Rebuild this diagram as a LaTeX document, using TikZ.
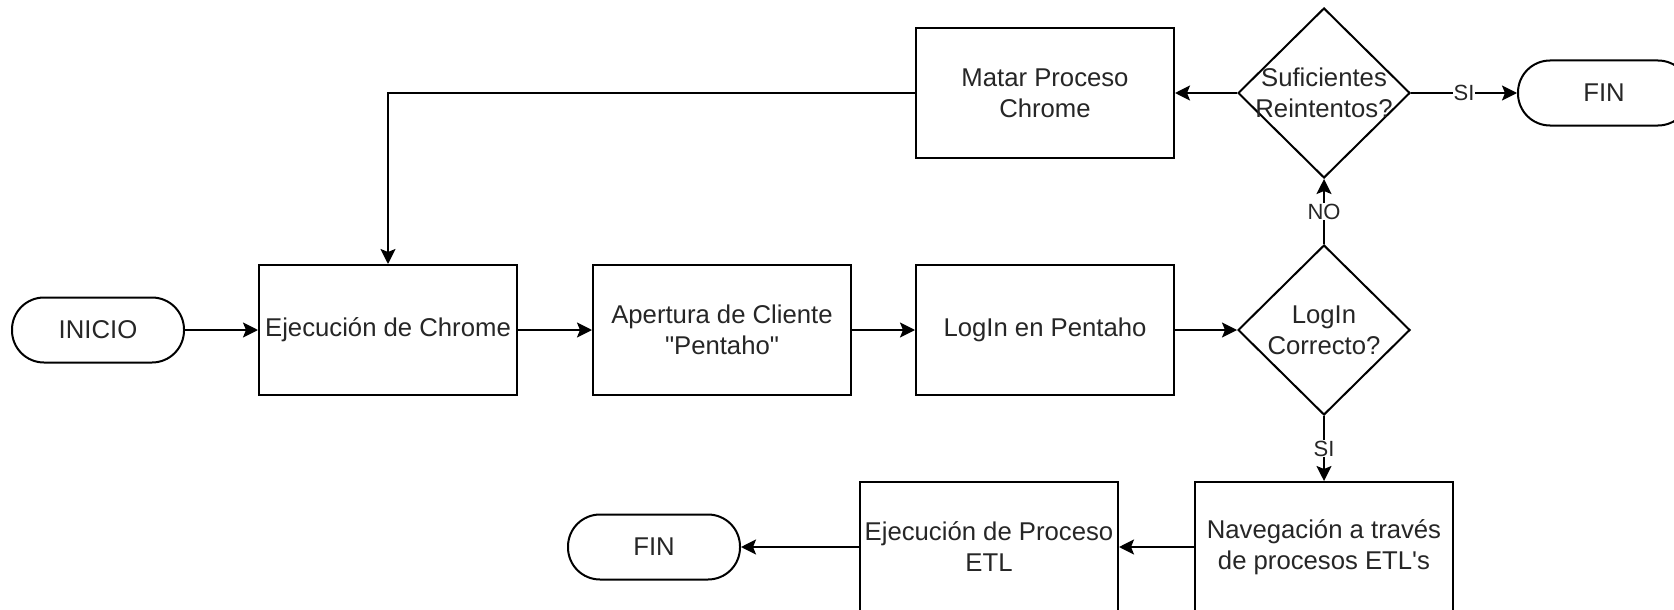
\documentclass[tikz,border=0pt]{standalone}
\usepackage{fontspec}
\newfontfamily\drawfont{Liberation Sans}
\usetikzlibrary{shapes.geometric,arrows.meta}
\begin{document}
\begin{tikzpicture}[x=1pt,y=-1pt,
  every node/.style={font=\drawfont\fontsize{25.7}{31}\selectfont, text=black!85},
  proc/.style={draw=black, line width=2pt, minimum width=258pt, minimum height=130pt, align=center, inner sep=0pt},
  term/.style={draw=black, line width=2pt, rounded corners=32pt, minimum width=172pt, minimum height=65pt, align=center, inner sep=0pt},
  dec/.style={draw=black, diamond, line width=2pt, minimum width=172pt, minimum height=170pt, inner sep=0pt},
  dectext/.style={align=center, inner sep=0pt},
  conn/.style={line width=2pt, -{Stealth[length=15pt,width=15pt,inset=3pt]}},
  lbl/.style={fill=white, font=\drawfont\fontsize{22}{26}\selectfont, inner sep=1pt}]
\clip (0,0) rectangle (1674,610);
\fill[white] (0,0) rectangle (1674,610);
\node[term] (inicio) at (98,330) {INICIO};
\node[proc] (chrome) at (388,330) {Ejecución de Chrome};
\node[proc] (apert) at (722,330) {Apertura de Cliente\\"Pentaho"};
\node[proc] (login) at (1045,330) {LogIn en Pentaho};
\node[dec] (d1) at (1324,330) {};
\node[dectext] (d1t) at (d1.center) {LogIn\\Correcto?};
\node[dec] (d2) at (1324,93) {};
\node[dectext] (d2t) at (d2.center) {Suficientes\\Reintentos?};
\node[proc] (matar) at (1045,93) {Matar Proceso\\Chrome};
\node[term] (fin1) at (1604,93) {FIN};
\node[proc] (nav) at (1324,547) {Navegación a través\\de procesos ETL's};
\node[proc] (etl) at (989,547) {Ejecución de Proceso\\ETL};
\node[term] (fin2) at (654,547) {FIN};
\draw[conn] (inicio) -- (chrome);
\draw[conn] (chrome) -- (apert);
\draw[conn] (apert) -- (login);
\draw[conn] (login) -- (d1);
\draw[conn] (d1) -- node[lbl]{SI} (nav);
\draw[conn] (d1) -- node[lbl]{NO} (d2);
\draw[conn] (d2) -- node[lbl]{SI} (fin1);
\draw[conn] (d2) -- (matar);
\draw[conn] (matar.west) -| (chrome.north);
\draw[conn] (nav) -- (etl);
\draw[conn] (etl) -- (fin2);
\end{tikzpicture}
\end{document}
